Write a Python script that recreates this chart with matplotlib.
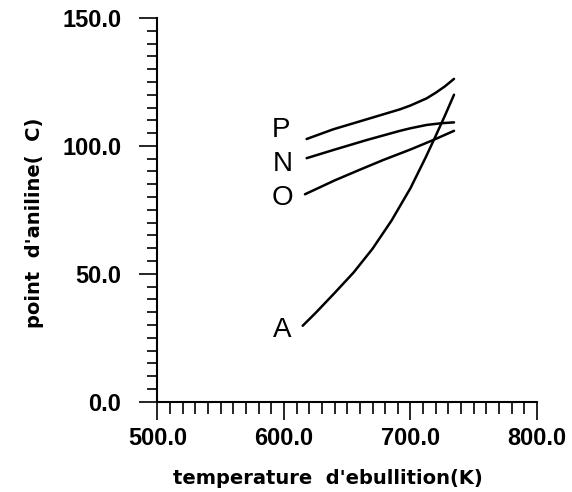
import matplotlib
matplotlib.use("Agg")
import matplotlib.pyplot as plt
from matplotlib.ticker import MultipleLocator, FormatStrFormatter

# Aniline point versus boiling temperature for four hydrocarbon families
temp_P = [617.9, 639.0, 665.4, 691.7, 700.0, 712.8, 720.0, 727.0, 734.4]
aniline_P = [102.7, 106.5, 110.4, 114.3, 115.8, 118.6, 120.8, 123.2, 126.2]

temp_N = [617.9, 639.0, 665.4, 691.7, 700.0, 712.8, 725.0, 734.4]
aniline_N = [95.2, 98.4, 102.3, 105.9, 106.9, 108.2, 108.9, 109.2]

temp_O = [616.6, 640.0, 660.0, 678.5, 700.0, 718.0, 734.4]
aniline_O = [81.1, 86.5, 90.7, 94.5, 98.6, 102.3, 105.9]

temp_A = [614.8, 625.0, 640.0, 655.0, 670.0, 685.0, 700.0, 712.0, 720.0, 727.0, 734.4]
aniline_A = [29.7, 34.7, 42.5, 50.5, 59.8, 70.8, 83.5, 95.5, 104.0, 111.6, 120.0]

family_names = ["P", "N", "O", "A"]
name_x = [597.5, 599.0, 599.0, 598.5]
name_y = [106.2, 92.9, 79.6, 28.0]

fig = plt.figure(figsize=(5.72, 4.92), dpi=100)
ax = fig.add_axes([0.2753, 0.1835, 0.6635, 0.7799])

for xs, ys in [(temp_P, aniline_P), (temp_N, aniline_N),
               (temp_O, aniline_O), (temp_A, aniline_A)]:
    ax.plot(xs, ys, color="black", lw=1.8, solid_capstyle="round",
            solid_joinstyle="round")

for name, tx, ty in zip(family_names, name_x, name_y):
    ax.text(tx, ty, name, fontsize=20, ha="center", va="center",
            family="Liberation Sans", color="black")

ax.set_xlim(500, 800)
ax.set_ylim(0, 150)

for side in ("top", "right"):
    ax.spines[side].set_visible(False)
for side in ("left", "bottom"):
    ax.spines[side].set_linewidth(1.5)

ax.xaxis.set_major_locator(MultipleLocator(100))
ax.xaxis.set_minor_locator(MultipleLocator(10))
ax.yaxis.set_major_locator(MultipleLocator(50))
ax.yaxis.set_minor_locator(MultipleLocator(5))
ax.xaxis.set_major_formatter(FormatStrFormatter("%.1f"))
ax.yaxis.set_major_formatter(FormatStrFormatter("%.1f"))

ax.tick_params(axis="y", which="major", direction="out", length=13, width=1.2, pad=13)
ax.tick_params(axis="y", which="minor", direction="out", length=7, width=1.2)
ax.tick_params(axis="x", which="major", direction="out", length=13, width=1.2, pad=5)
ax.tick_params(axis="x", which="minor", direction="out", length=8.5, width=1.2)

for lab in ax.get_xticklabels() + ax.get_yticklabels():
    lab.set_family("Liberation Sans")
    lab.set_fontweight("bold")
    lab.set_fontsize(17)

ax.set_xlabel("temperature  d'ebullition(K)", fontsize=14, fontweight="bold",
              family="DejaVu Sans", va="center")
ax.set_ylabel("point  d'aniline(  C)", fontsize=14, fontweight="bold",
              family="DejaVu Sans", va="center")
ax.xaxis.set_label_coords(0.449, -0.199)
ax.yaxis.set_label_coords(-0.323, 0.466)

fig.savefig("out.png", dpi=100, facecolor="white")
